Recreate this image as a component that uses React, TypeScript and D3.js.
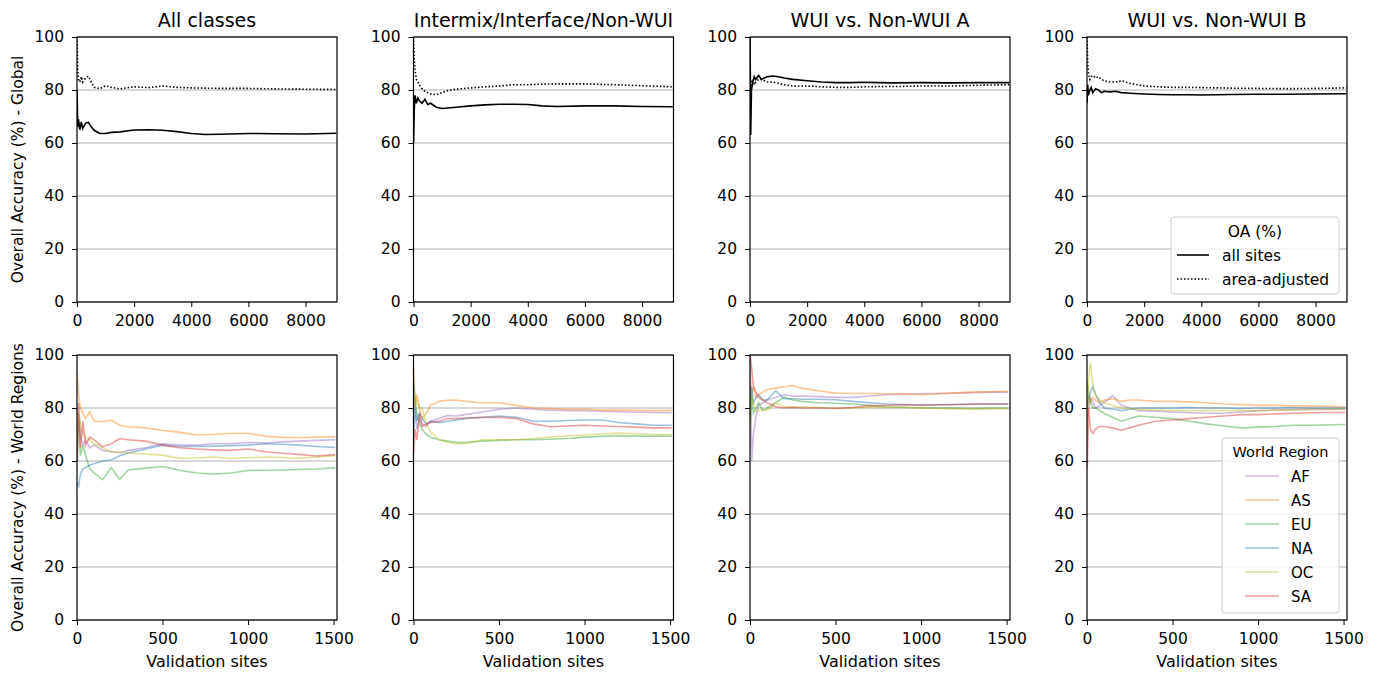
import React, { useEffect, useRef } from "react";
import * as d3 from "d3";

// panel titles (columns)
const TITLES = ["All classes", "Intermix/Interface/Non-WUI", "WUI vs. Non-WUI A", "WUI vs. Non-WUI B"];
const Y_TICKS = [0, 20, 40, 60, 80, 100];
const TOP_TICKS = [0, 2000, 4000, 6000, 8000];
const BOT_TICKS = [0, 500, 1000, 1500];

// top row: cumulative OA (%) against number of validation sites
const TOP_X = [1, 25, 50, 100, 150, 200, 300, 400, 500, 600, 800, 1000, 1200, 1500, 2000, 2500, 3000, 3500, 4000, 4500, 5000, 6000, 7000, 8000, 9080];
const allSites1 = [80, 66, 69, 65, 68, 65.5, 67.5, 67.8, 66, 64.8, 63.6, 63.6, 64, 64.2, 64.9, 65, 64.8, 64.3, 63.6, 63.2, 63.3, 63.6, 63.5, 63.4, 63.7];
const areaAdj1 = [100, 88, 84, 83, 85, 83, 84.5, 85.2, 83, 81, 80.5, 81.6, 81, 80.4, 81.2, 80.9, 81.5, 81, 80.8, 80.7, 80.6, 80.6, 80.4, 80.3, 80.2];
const allSites2 = [60, 72, 78, 75, 77, 76, 75, 76.5, 74.5, 75, 73.5, 73, 73.2, 73.5, 74, 74.4, 74.6, 74.6, 74.5, 74, 73.8, 74, 74, 73.8, 73.7];
const areaAdj2 = [100, 92, 88, 84, 83, 82, 80.5, 79.5, 79, 78.5, 78.2, 79, 79.8, 80.3, 80.8, 81.2, 81.5, 82, 82, 82.2, 82.3, 82.3, 82, 81.6, 81.2];
const allSites3 = [100, 63, 80, 83, 85, 84, 85.5, 84, 84.5, 85, 85.3, 85, 84.5, 84, 83.5, 83, 82.8, 82.8, 82.9, 82.8, 82.7, 82.8, 82.7, 82.8, 82.8];
const areaAdj3 = [85, 80, 83, 84, 82, 83, 84, 84, 83.5, 83, 83, 82.5, 82, 81.5, 81.5, 81.2, 81, 81, 81.2, 81.3, 81.3, 81.5, 81.5, 81.8, 82];
const allSites4 = [75, 82, 78, 80, 81, 79, 80.5, 80, 79, 79.5, 79.3, 79.5, 79, 78.8, 78.5, 78.3, 78.2, 78.2, 78.1, 78.2, 78.3, 78.4, 78.4, 78.5, 78.6];
const areaAdj4 = [100, 90, 86, 84, 85, 85.5, 84.5, 85, 84, 83.5, 83, 83, 83.5, 82.5, 81.5, 81.2, 81, 81, 80.9, 80.8, 80.7, 80.6, 80.5, 80.6, 80.8];

// bottom row: OA (%) per world region
const REGIONS = ["AF", "AS", "EU", "NA", "OC", "SA"];
const REGION_COLORS = ["#9467bd", "#ff7f0e", "#2ca02c", "#1f77b4", "#bcbd22", "#d62728"];
const BOT_X = [1, 10, 20, 35, 50, 75, 100, 150, 200, 250, 300, 400, 500, 600, 700, 800, 900, 1000, 1100, 1200, 1300, 1400, 1510];
// rows in REGIONS order
const regions1 = [
  [80, 75, 70, 66, 68, 65, 66, 64, 63.5, 63, 64, 65, 66.5, 66, 66, 66.5, 66.5, 67, 66.8, 67.2, 67.5, 67.8, 68],
  [93, 85, 80, 78, 76, 78.5, 75, 74.8, 75.4, 73.5, 72.9, 72.5, 71.6, 70.8, 69.8, 70.1, 70.4, 70.4, 69.4, 68.9, 68.8, 69, 69.1],
  [60, 75, 62, 66, 62, 57, 55.5, 53, 57.5, 53, 56.6, 57.3, 57.9, 56.5, 55.5, 55.1, 55.5, 56.4, 56.5, 56.6, 56.8, 57, 57.4],
  [52, 50.5, 55, 57, 57.5, 58.5, 59, 60, 60.4, 62, 63, 64.5, 66, 65.5, 65.5, 65.6, 65.8, 66, 66.5, 66.3, 66, 65.5, 65.1],
  [70, 78, 74, 70, 69, 68, 66.5, 65, 63.5, 63.5, 63, 62.6, 62.2, 61, 61.2, 61.5, 61, 61.2, 61.5, 61.3, 61, 61.5, 62],
  [60, 82, 65, 75, 66, 69, 68, 65.4, 66.5, 68.5, 68, 67.5, 66, 65, 64.5, 64.2, 64, 64.5, 63.5, 62.9, 62.5, 61.9, 62.4],
];
const regions2 = [
  [85, 78, 72, 76, 74, 73, 75, 76, 77.2, 77, 77.5, 78.5, 79.5, 80, 79.5, 79.2, 79, 79, 78.8, 78.6, 78.4, 78.3, 78.2],
  [95, 80, 85, 80, 76, 78, 81, 82.5, 82.9, 83, 82.5, 82, 82, 81, 80, 79.8, 79.5, 79.5, 79.2, 79.2, 79.1, 79, 79.1],
  [90, 82, 78, 74, 72, 70, 69, 68, 67.5, 67, 67, 67.5, 67.8, 68, 68, 68.2, 68.5, 69, 69.3, 69.5, 69.4, 69.4, 69.4],
  [70, 80, 75, 78, 76, 74, 75, 74.5, 75, 75.5, 76, 76.5, 77, 76.5, 75, 75, 75.3, 75.5, 75.5, 74.5, 74, 73.5, 73.5],
  [80, 85, 82, 80, 80, 74, 71, 68, 67, 66.5, 66.5, 68, 68, 68, 68.5, 69, 69.5, 69.8, 70.2, 70.5, 70.3, 70, 70],
  [63, 72, 68, 78, 73, 74, 74.5, 75, 76, 76, 76.2, 76.4, 76.5, 76, 74, 72.9, 73.2, 73.5, 73.2, 73, 72.8, 72.5, 72.5],
];
const regions3 = [
  [100, 60, 70, 77, 81, 82, 83, 84, 85, 84.5, 84.5, 84.3, 84, 84, 84.5, 85, 85.2, 85.5, 85.5, 85.6, 85.8, 86, 86],
  [90, 85, 88, 84, 85, 86, 87, 87.5, 88, 88.5, 87.5, 86.5, 85.6, 85.5, 85.5, 85.4, 85.3, 85, 85.4, 85.7, 86, 86.1, 86.3],
  [75, 85, 78, 80, 82, 79, 80, 82, 84.1, 83, 82.5, 82, 81.8, 81.5, 81, 80.5, 80.3, 80, 80, 80, 79.8, 80, 80],
  [80, 88, 82, 84, 85, 83, 83, 86.5, 83.5, 83.5, 83.3, 83.3, 83.1, 82.5, 82, 81.5, 81.3, 81.2, 81.2, 81.3, 81.5, 81.5, 81.5],
  [70, 85, 82, 79, 79, 79.5, 79, 82, 80.5, 80.5, 80.5, 80.2, 80, 80, 80.2, 80.3, 80.2, 80, 79.8, 79.6, 79.5, 79.6, 79.7],
  [100, 95, 88, 86, 84, 83, 82, 80.5, 80, 80.2, 80, 80, 79.8, 80.2, 80.8, 81, 81.2, 81, 81.2, 81.3, 81.4, 81.5, 81.5],
];
const regions4 = [
  [75, 80, 84, 82, 80, 81, 82, 84.7, 81, 80, 79, 78.8, 78.5, 78.2, 78, 78, 78.5, 79, 79.2, 79.4, 79.5, 79.5, 79.6],
  [80, 85, 82, 84, 83, 82, 82.9, 83.5, 82.5, 83, 83, 82.5, 82.5, 82.3, 82, 81.5, 81.3, 81, 81, 80.8, 80.7, 80.6, 80.5],
  [90, 85, 82, 80, 80, 79, 78, 76.5, 75, 76, 77, 76.5, 76, 75, 74, 73.2, 72.5, 72.8, 73, 73.5, 73.5, 73.6, 73.8],
  [80, 84, 86, 88, 85, 82, 80, 79.5, 79, 79.5, 80, 80, 80, 80.2, 80, 80, 79.8, 80, 80, 80.2, 80, 80, 80],
  [70, 92, 97, 88, 85, 83, 82, 81, 80, 79.8, 79.5, 79.2, 79, 79, 79, 79, 79, 79, 79.2, 79.3, 79.4, 79.5, 79.5],
  [57, 80, 72, 70.4, 72, 73, 73, 72.5, 71.6, 72.5, 73.5, 75, 75.5, 76, 76.5, 77, 77.5, 77.5, 77.8, 78, 78.2, 78.3, 78.3],
];

const ALL_SITES = [allSites1, allSites2, allSites3, allSites4];
const AREA_ADJ = [areaAdj1, areaAdj2, areaAdj3, areaAdj4];
const REGION_SETS = [regions1, regions2, regions3, regions4];

const W = 1380;
const H = 674;
const COL_X = [77, 413.5, 750, 1087];
const ROW_Y = [37, 355];
const PW = 260;
const PH = 265;
const FONT = "DejaVu Sans, Verdana, sans-serif";

export default function App() {
  const ref = useRef<SVGSVGElement>(null);

  useEffect(() => {
    const svg = d3.select(ref.current);
    svg.selectAll("*").remove();
    svg.append("rect").attr("width", W).attr("height", H).attr("fill", "#fff");

    const y = d3.scaleLinear().domain([0, 100]).range([PH, 0]);
    const xTop = d3.scaleLinear().domain([0, 9100]).range([0, PW]);
    const xBot = d3.scaleLinear().domain([0, 1520]).range([0, PW]);

    const drawPanel = (col: number, row: number) => {
      const g = svg.append("g").attr("transform", `translate(${COL_X[col]},${ROW_Y[row]})`);
      const x = row === 0 ? xTop : xBot;
      const clipId = `clip-${col}-${row}`;
      g.append("clipPath").attr("id", clipId)
        .append("rect").attr("width", PW).attr("height", PH);

      // horizontal grid
      g.append("g").selectAll("line").data(Y_TICKS).enter().append("line")
        .attr("x1", 0).attr("x2", PW)
        .attr("y1", d => y(d)).attr("y2", d => y(d))
        .attr("stroke", "#b0b0b0").attr("stroke-width", 1);

      const lines = g.append("g").attr("clip-path", `url(#${clipId})`);
      if (row === 0) {
        const line = d3.line<number>().x((_, i) => x(TOP_X[i])).y(d => y(d));
        lines.append("path").attr("d", line(ALL_SITES[col]))
          .attr("fill", "none").attr("stroke", "#000").attr("stroke-width", 1.6);
        lines.append("path").attr("d", line(AREA_ADJ[col]))
          .attr("fill", "none").attr("stroke", "#000").attr("stroke-width", 1.6)
          .attr("stroke-dasharray", "1.5,2");
      } else {
        const line = d3.line<number>().x((_, i) => x(BOT_X[i])).y(d => y(d));
        REGION_SETS[col].forEach((vals, k) => {
          lines.append("path").attr("d", line(vals))
            .attr("fill", "none").attr("stroke", REGION_COLORS[k])
            .attr("stroke-opacity", 0.45).attr("stroke-width", 1.6);
        });
      }

      // axes
      const yAxis = d3.axisLeft(y).tickValues(Y_TICKS).tickSize(5).tickSizeOuter(0).tickPadding(8);
      const xAxis = d3.axisBottom(x).tickValues(row === 0 ? TOP_TICKS : BOT_TICKS)
        .tickSize(5).tickSizeOuter(0).tickPadding(8).tickFormat(d3.format("d"));
      const ya = g.append("g").call(yAxis);
      const xa = g.append("g").attr("transform", `translate(0,${PH})`).call(xAxis);
      [ya, xa].forEach(a => {
        a.select(".domain").remove();
        a.selectAll("text").attr("font-size", 15.5).attr("font-family", FONT).attr("fill", "#000");
        a.selectAll("line").attr("stroke", "#000");
      });

      g.append("rect").attr("width", PW).attr("height", PH)
        .attr("fill", "none").attr("stroke", "#000").attr("stroke-width", 1.2);

      if (row === 0) {
        g.append("text").attr("x", PW / 2).attr("y", -10).attr("text-anchor", "middle")
          .attr("font-size", 19).attr("font-family", FONT).text(TITLES[col]);
      } else {
        g.append("text").attr("x", PW / 2).attr("y", PH + 47).attr("text-anchor", "middle")
          .attr("font-size", 16).attr("font-family", FONT).text("Validation sites");
      }
      if (col === 0) {
        g.append("text")
          .attr("transform", `translate(${23 - COL_X[0]},${PH / 2}) rotate(-90)`)
          .attr("text-anchor", "middle").attr("font-size", 15.5).attr("font-family", FONT)
          .text(row === 0 ? "Overall Accuracy (%) - Global" : "Overall Accuracy (%) - World Regions");
      }
      return g;
    };

    for (let row = 0; row < 2; row++) {
      for (let col = 0; col < 4; col++) {
        const g = drawPanel(col, row);
        if (col !== 3) continue;
        if (row === 0) {
          // OA legend
          const lg = g.append("g").attr("transform", `translate(${PW - 176},${PH - 85})`);
          lg.append("rect").attr("width", 168).attr("height", 77).attr("rx", 3)
            .attr("fill", "#fff").attr("fill-opacity", 0.8).attr("stroke", "#cccccc");
          lg.append("text").attr("x", 84).attr("y", 20).attr("text-anchor", "middle")
            .attr("font-size", 15.5).attr("font-family", FONT).text("OA (%)");
          ["all sites", "area-adjusted"].forEach((lab, i) => {
            const cy = 38 + i * 24;
            lg.append("line").attr("x1", 6).attr("x2", 38).attr("y1", cy).attr("y2", cy)
              .attr("stroke", "#000").attr("stroke-width", 1.6)
              .attr("stroke-dasharray", i === 1 ? "1.5,2" : null);
            lg.append("text").attr("x", 51).attr("y", cy + 5.5)
              .attr("font-size", 15.5).attr("font-family", FONT).text(lab);
          });
        } else {
          const lg = g.append("g").attr("transform", `translate(${PW - 125},${PH - 182})`);
          lg.append("rect").attr("width", 117).attr("height", 175).attr("rx", 3)
            .attr("fill", "#fff").attr("fill-opacity", 0.8).attr("stroke", "#cccccc");
          lg.append("text").attr("x", 58.5).attr("y", 19).attr("text-anchor", "middle")
            .attr("font-size", 14.5).attr("font-family", FONT).text("World Region");
          REGIONS.forEach((lab, i) => {
            const cy = 38 + i * 24;
            lg.append("line").attr("x1", 23).attr("x2", 57).attr("y1", cy).attr("y2", cy)
              .attr("stroke", REGION_COLORS[i]).attr("stroke-opacity", 0.45).attr("stroke-width", 1.6);
            lg.append("text").attr("x", 69).attr("y", cy + 5.5)
              .attr("font-size", 15).attr("font-family", FONT).text(lab);
          });
        }
      }
    }
  }, []);

  return (
    <svg ref={ref} width={W} height={H} style={{ position: "absolute", left: 0, top: 0 }} />
  );
}
